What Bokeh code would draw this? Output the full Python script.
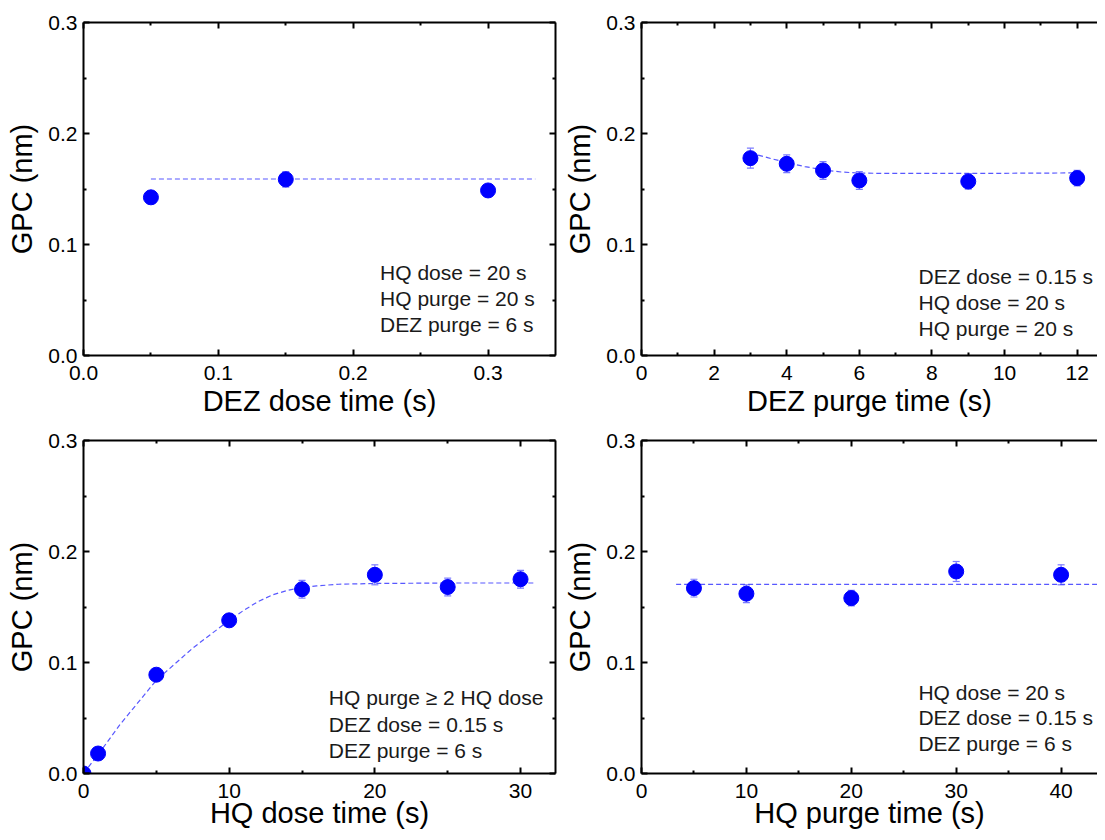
from bokeh.plotting import figure
from bokeh.layouts import column, row
from bokeh.models import (Range1d, FixedTicker, PrintfTickFormatter, LinearAxis,
                          ColumnDataSource, Whisker, TeeHead, Label)
from bokeh.embed import file_html
from bokeh.resources import INLINE

# ---------------- data ----------------
# (a) DEZ dose time
dez_dose_x = [0.05, 0.15, 0.30]
dez_dose_gpc = [0.1425, 0.1587, 0.1487]
dez_dose_err = [0.004, 0.007, 0.004]
dez_dose_fit_x = [0.05, 0.335]
dez_dose_fit_y = [0.159, 0.159]
dez_dose_notes = ["HQ dose = 20 s", "HQ purge = 20 s", "DEZ purge = 6 s"]

# (b) DEZ purge time
dez_purge_x = [3, 4, 5, 6, 9, 12]
dez_purge_gpc = [0.1778, 0.1727, 0.1667, 0.1577, 0.1568, 0.1598]
dez_purge_err = [0.009, 0.008, 0.008, 0.008, 0.007, 0.007]
dez_purge_fit_x = [3, 3.5, 4, 4.5, 5, 5.5, 6, 7, 9, 12]
dez_purge_fit_y = [0.1825, 0.178, 0.1738, 0.1702, 0.1672, 0.1653, 0.1643, 0.164, 0.164, 0.1645]
dez_purge_notes = ["DEZ dose = 0.15 s", "HQ dose = 20 s", "HQ purge = 20 s"]

# (c) HQ dose time
hq_dose_x = [0, 1, 5, 10, 15, 20, 25, 30]
hq_dose_gpc = [0.0, 0.018, 0.089, 0.138, 0.166, 0.179, 0.168, 0.175]
hq_dose_err = [0.0, 0.004, 0.004, 0.005, 0.008, 0.009, 0.008, 0.008]
hq_dose_fit_x = [0, 1, 2.5, 5, 7.5, 10, 11, 12, 13, 14, 15, 16, 17.5, 20, 25, 31]
hq_dose_fit_y = [0.0, 0.017, 0.044, 0.084, 0.113, 0.138, 0.147, 0.155, 0.161, 0.165,
                 0.1675, 0.169, 0.1705, 0.1712, 0.1716, 0.1716]
hq_dose_notes = ["HQ purge \u2265 2 HQ dose", "DEZ dose = 0.15 s", "DEZ purge = 6 s"]

# (d) HQ purge time
hq_purge_x = [5, 10, 20, 30, 40]
hq_purge_gpc = [0.167, 0.162, 0.158, 0.182, 0.179]
hq_purge_err = [0.008, 0.008, 0.007, 0.009, 0.009]
hq_purge_fit_x = [3.3, 45]
hq_purge_fit_y = [0.1703, 0.1703]
hq_purge_notes = ["HQ dose = 20 s", "DEZ dose = 0.15 s", "DEZ purge = 6 s"]

y_ticks = [0.0, 0.1, 0.2, 0.3]
y_minor = [0.05, 0.15, 0.25]
y_title = "GPC (nm)"

FONT = "Liberation Sans"
MARK = "#0000ff"
ERRC = "#7a7aff"
FITC = "#4646ff"


def style_axis(ax, show_labels=True, label_standoff=6, title_standoff=5):
    ax.axis_line_width = 2
    ax.axis_line_color = "black"
    ax.major_tick_in = 6
    ax.major_tick_out = 0
    ax.minor_tick_in = 3
    ax.minor_tick_out = 0
    ax.major_tick_line_width = 2
    ax.minor_tick_line_width = 2
    ax.major_tick_line_color = "black"
    ax.minor_tick_line_color = "black"
    ax.major_label_text_font = FONT
    ax.axis_label_text_font = FONT
    ax.axis_label_text_font_size = "29px"
    ax.axis_label_text_font_style = "normal"
    ax.axis_label_text_color = "black"
    ax.axis_label_standoff = title_standoff
    if show_labels:
        ax.major_label_text_font_size = "21px"
        ax.major_label_text_color = "black"
        ax.major_label_standoff = label_standoff
    else:
        ax.major_label_text_font_size = "1px"
        ax.major_label_text_color = None
        ax.major_label_standoff = 0


def make_panel(xs, ys, errs, fx, fy, notes, note_x, note_y, xr, xticks, xminor, xfmt,
               xlabel, width, height, mb_left, mb_right, mb_top, mb_bottom,
               right_axis, xtick_standoff, xtitle_standoff):
    p = figure(width=width, height=height, x_range=Range1d(*xr), y_range=Range1d(0, 0.3),
               output_backend="svg", toolbar_location=None,
               min_border_left=mb_left, min_border_right=mb_right,
               min_border_top=mb_top, min_border_bottom=mb_bottom,
               x_axis_label=xlabel, y_axis_label=y_title)
    p.grid.visible = False
    p.outline_line_color = None
    p.background_fill_color = "white"
    p.border_fill_color = "white"

    p.xaxis.ticker = FixedTicker(ticks=xticks, minor_ticks=xminor)
    p.xaxis.formatter = PrintfTickFormatter(format=xfmt)
    p.yaxis.ticker = FixedTicker(ticks=y_ticks, minor_ticks=y_minor)
    p.yaxis.formatter = PrintfTickFormatter(format="%.1f")
    for ax in p.xaxis:
        style_axis(ax, True, xtick_standoff, xtitle_standoff)
    for ax in p.yaxis:
        style_axis(ax, True, 6, 7)

    top = LinearAxis(ticker=FixedTicker(ticks=xticks, minor_ticks=xminor))
    style_axis(top, show_labels=False)
    p.add_layout(top, "above")
    if right_axis:
        rgt = LinearAxis(ticker=FixedTicker(ticks=y_ticks, minor_ticks=y_minor))
        style_axis(rgt, show_labels=False)
        p.add_layout(rgt, "right")

    # fitted (guide) curve
    p.line(fx, fy, line_color=FITC, line_width=1.2, line_dash="5 3", line_alpha=0.9)

    # error bars
    src = ColumnDataSource(dict(x=xs, y=ys,
                                upper=[a + b for a, b in zip(ys, errs)],
                                lower=[a - b for a, b in zip(ys, errs)]))
    wh = Whisker(source=src, base="x", upper="upper", lower="lower",
                 line_color=ERRC, line_width=1.2,
                 upper_head=TeeHead(size=7, line_color=ERRC, line_width=1.2),
                 lower_head=TeeHead(size=7, line_color=ERRC, line_width=1.2))
    p.add_layout(wh)

    p.scatter("x", "y", source=src, size=15, marker="circle",
              fill_color=MARK, line_color=MARK)

    for t, yy in zip(notes, note_y):
        p.add_layout(Label(x=note_x, y=yy, text=t, text_font=FONT, text_font_size="21px",
                           text_color="#1a1a1a", text_baseline="middle", text_align="left"))
    return p


p1 = make_panel(dez_dose_x, dez_dose_gpc, dez_dose_err, dez_dose_fit_x, dez_dose_fit_y,
                dez_dose_notes, 0.2199, [0.0748, 0.0511, 0.0279],
                (0, 0.35), [0, 0.1, 0.2, 0.3], [0.05, 0.15, 0.25], "%.1f",
                "DEZ dose time (s)", 560, 420, 83, 5, 22, 65, True, 10, 2)

p2 = make_panel(dez_purge_x, dez_purge_gpc, dez_purge_err, dez_purge_fit_x, dez_purge_fit_y,
                dez_purge_notes, 7.63, [0.0714, 0.0477, 0.0243],
                (0, 12.56), [0, 2, 4, 6, 8, 10, 12], [1, 3, 5, 7, 9, 11], "%d",
                "DEZ purge time (s)", 537, 420, 81, 0, 22, 65, False, 10, 2)

p3 = make_panel(hq_dose_x, hq_dose_gpc, hq_dose_err, hq_dose_fit_x, hq_dose_fit_y,
                hq_dose_notes, 16.84, [0.0685, 0.0441, 0.0207],
                (0, 32.4), [0, 10, 20, 30], [5, 15, 25], "%d",
                "HQ dose time (s)", 560, 412, 83, 5, 20, 59, True, 10, -4)

p4 = make_panel(hq_purge_x, hq_purge_gpc, hq_purge_err, hq_purge_fit_x, hq_purge_fit_y,
                hq_purge_notes, 26.4, [0.0732, 0.0505, 0.027],
                (0, 43.47), [0, 10, 20, 30, 40], [5, 15, 25, 35], "%d",
                "HQ purge time (s)", 537, 412, 81, 0, 20, 59, False, 10, -4)

layout = column(row(p1, p2), row(p3, p4))

with open("out.html", "w") as f:
    f.write(file_html(layout, INLINE))
